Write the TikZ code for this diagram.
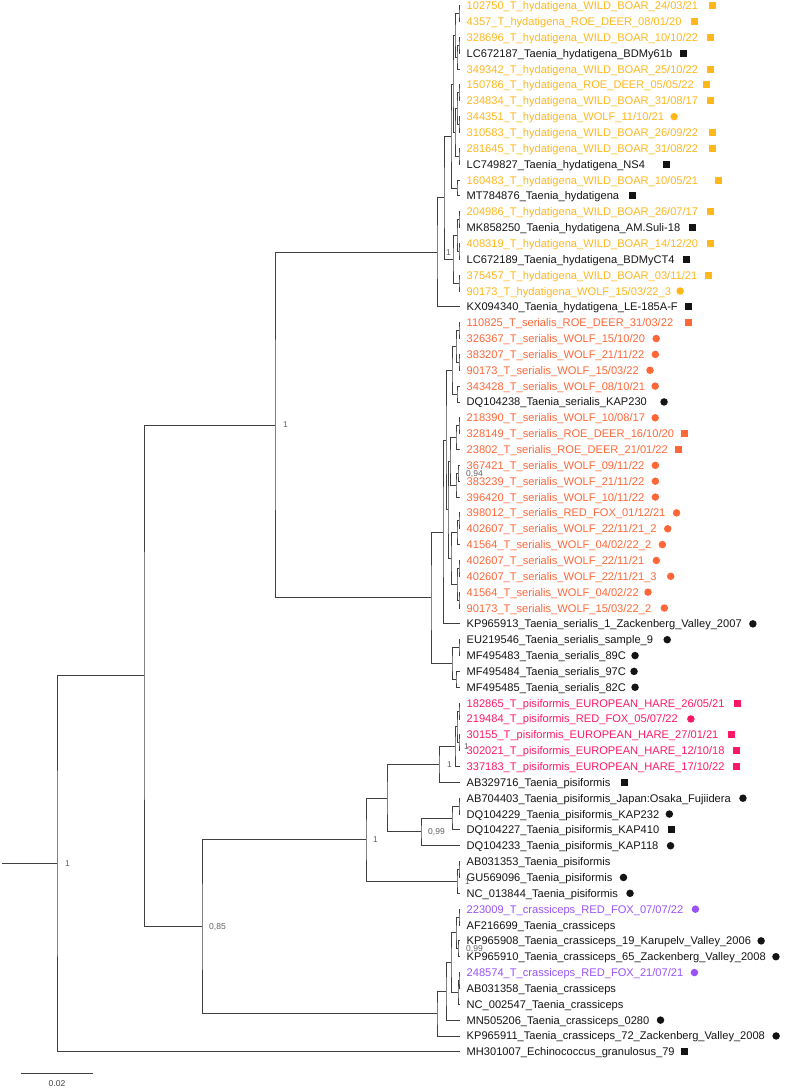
\documentclass[tikz,border=0pt]{standalone}
\usepackage{fontspec}
\setmainfont{Liberation Sans}
\usetikzlibrary{calc,positioning}
\definecolor{hydcol}{RGB}{255,183,28}
\definecolor{sercol}{RGB}{255,102,56}
\definecolor{piscol}{RGB}{255,24,104}
\definecolor{cracol}{RGB}{152,82,246}
\definecolor{refcol}{RGB}{20,20,20}
\definecolor{treecol}{RGB}{64,64,64}
\definecolor{bootcol}{RGB}{96,96,96}
\newcommand{\tipfont}{\fontsize{11.1}{13}\selectfont}
\newcommand{\bootfont}{\fontsize{8.5}{10}\selectfont}
\newcommand{\mkclade}[4]{%
  \coordinate (#1) at ($(#3)!.5!(#4)$);
  \coordinate (#1) at (#2,0|-#1);
  \draw[branch] (#3) -| (#1) |- (#4);
}
\tikzset{
  branch/.style={draw=treecol,line width=0.9pt},
  tip/.style={anchor=west,inner sep=0pt,text height=8pt,text depth=0pt,font=\tipfont},
  sqm/.style={rectangle,minimum size=7pt},
  dotm/.style={circle,minimum size=7.5pt},
  nom/.style={fill=none},
  boot/.style={anchor=west,inner sep=0pt,text height=6pt,text depth=0pt,font=\bootfont,text=bootcol},
}

\begin{document}
\begin{tikzpicture}[x=1pt,y=-1pt]
\useasboundingbox (0,0) rectangle (790,1089);
\foreach \i/\txt/\col/\mk/\gap in {
 0/{102750\_T\_hydatigena\_WILD\_BOAR\_24/03/21}/hydcol/sqm/10,
 1/{4357\_T\_hydatigena\_ROE\_DEER\_08/01/20}/hydcol/sqm/9,
 2/{328696\_T\_hydatigena\_WILD\_BOAR\_10/10/22}/hydcol/sqm/8,
 3/{LC672187\_Taenia\_hydatigena\_BDMy61b}/refcol/sqm/7,
 4/{349342\_T\_hydatigena\_WILD\_BOAR\_25/10/22}/hydcol/sqm/8,
 5/{150786\_T\_hydatigena\_ROE\_DEER\_05/05/22}/hydcol/sqm/9,
 6/{234834\_T\_hydatigena\_WILD\_BOAR\_31/08/17}/hydcol/sqm/8,
 7/{344351\_T\_hydatigena\_WOLF\_11/10/21}/hydcol/dotm/6,
 8/{310583\_T\_hydatigena\_WILD\_BOAR\_26/09/22}/hydcol/sqm/10,
 9/{281645\_T\_hydatigena\_WILD\_BOAR\_31/08/22}/hydcol/sqm/10,
 10/{LC749827\_Taenia\_hydatigena\_NS4}/refcol/sqm/18,
 11/{160483\_T\_hydatigena\_WILD\_BOAR\_10/05/21}/hydcol/sqm/16,
 12/{MT784876\_Taenia\_hydatigena}/refcol/sqm/9,
 13/{204986\_T\_hydatigena\_WILD\_BOAR\_26/07/17}/hydcol/sqm/8,
 14/{MK858250\_Taenia\_hydatigena\_AM.Suli-18}/refcol/sqm/8,
 15/{408319\_T\_hydatigena\_WILD\_BOAR\_14/12/20}/hydcol/sqm/8,
 16/{LC672189\_Taenia\_hydatigena\_BDMyCT4}/refcol/sqm/8,
 17/{375457\_T\_hydatigena\_WILD\_BOAR\_03/11/21}/hydcol/sqm/7,
 18/{90173\_T\_hydatigena\_WOLF\_15/03/22\_3}/hydcol/dotm/5,
 19/{KX094340\_Taenia\_hydatigena\_LE-185A-F}/refcol/sqm/7,
 20/{110825\_T\_serialis\_ROE\_DEER\_31/03/22}/sercol/sqm/11,
 21/{326367\_T\_serialis\_WOLF\_15/10/20}/sercol/dotm/7,
 22/{383207\_T\_serialis\_WOLF\_21/11/22}/sercol/dotm/7,
 23/{90173\_T\_serialis\_WOLF\_15/03/22}/sercol/dotm/7,
 24/{343428\_T\_serialis\_WOLF\_08/10/21}/sercol/dotm/6,
 25/{DQ104238\_Taenia\_serialis\_KAP230}/refcol/dotm/13,
 26/{218390\_T\_serialis\_WOLF\_10/08/17}/sercol/dotm/6,
 27/{328149\_T\_serialis\_ROE\_DEER\_16/10/20}/sercol/sqm/7,
 28/{23802\_T\_serialis\_ROE\_DEER\_21/01/22}/sercol/sqm/7,
 29/{367421\_T\_serialis\_WOLF\_09/11/22}/sercol/dotm/7,
 30/{383239\_T\_serialis\_WOLF\_21/11/22}/sercol/dotm/7,
 31/{396420\_T\_serialis\_WOLF\_10/11/22}/sercol/dotm/7,
 32/{398012\_T\_serialis\_RED\_FOX\_01/12/21}/sercol/dotm/7,
 33/{402607\_T\_serialis\_WOLF\_22/11/21\_2}/sercol/dotm/7,
 34/{41564\_T\_serialis\_WOLF\_04/02/22\_2}/sercol/dotm/7,
 35/{402607\_T\_serialis\_WOLF\_22/11/21}/sercol/dotm/8,
 36/{402607\_T\_serialis\_WOLF\_22/11/21\_3}/sercol/dotm/10,
 37/{41564\_T\_serialis\_WOLF\_04/02/22}/sercol/dotm/5,
 38/{90173\_T\_serialis\_WOLF\_15/03/22\_2}/sercol/dotm/9,
 39/{KP965913\_Taenia\_serialis\_1\_Zackenberg\_Valley\_2007}/refcol/dotm/7,
 40/{EU219546\_Taenia\_serialis\_sample\_9}/refcol/dotm/10,
 41/{MF495483\_Taenia\_serialis\_89C}/refcol/dotm/5,
 42/{MF495484\_Taenia\_serialis\_97C}/refcol/dotm/4,
 43/{MF495485\_Taenia\_serialis\_82C}/refcol/dotm/5,
 44/{182865\_T\_pisiformis\_EUROPEAN\_HARE\_26/05/21}/piscol/sqm/9,
 45/{219484\_T\_pisiformis\_RED\_FOX\_05/07/22}/piscol/dotm/9,
 46/{30155\_T\_pisiformis\_EUROPEAN\_HARE\_27/01/21}/piscol/sqm/9,
 47/{302021\_T\_pisiformis\_EUROPEAN\_HARE\_12/10/18}/piscol/sqm/8,
 48/{337183\_T\_pisiformis\_EUROPEAN\_HARE\_17/10/22}/piscol/sqm/8,
 49/{AB329716\_Taenia\_pisiformis}/refcol/sqm/10,
 50/{AB704403\_Taenia\_pisiformis\_Japan:Osaka\_Fujiidera}/refcol/dotm/8,
 51/{DQ104229\_Taenia\_pisiformis\_KAP232}/refcol/dotm/6,
 52/{DQ104227\_Taenia\_pisiformis\_KAP410}/refcol/sqm/8,
 53/{DQ104233\_Taenia\_pisiformis\_KAP118}/refcol/dotm/8,
 54/{AB031353\_Taenia\_pisiformis}/refcol/nom/7,
 55/{GU569096\_Taenia\_pisiformis}/refcol/dotm/7,
 56/{NC\_013844\_Taenia\_pisiformis}/refcol/dotm/8,
 57/{223009\_T\_crassiceps\_RED\_FOX\_07/07/22}/cracol/dotm/8,
 58/{AF216699\_Taenia\_crassiceps}/refcol/nom/7,
 59/{KP965908\_Taenia\_crassiceps\_19\_Karupelv\_Valley\_2006}/refcol/dotm/6,
 60/{KP965910\_Taenia\_crassiceps\_65\_Zackenberg\_Valley\_2008}/refcol/dotm/6,
 61/{248574\_T\_crassiceps\_RED\_FOX\_21/07/21}/cracol/dotm/7,
 62/{AB031358\_Taenia\_crassiceps}/refcol/nom/7,
 63/{NC\_002547\_Taenia\_crassiceps}/refcol/nom/7,
 64/{MN505206\_Taenia\_crassiceps\_0280}/refcol/dotm/7,
 65/{KP965911\_Taenia\_crassiceps\_72\_Zackenberg\_Valley\_2008}/refcol/dotm/7,
 66/{MH301007\_Echinococcus\_granulosus\_79}/refcol/sqm/6}{
  \coordinate (t\i) at (460,{5.7+15.85*\i});
  \node[tip,text=\col] (l\i) at (466.5,{5.7+15.85*\i}) {\txt};
  \node[fill=\col,\mk,inner sep=0pt,right=\gap pt of l\i] (m\i) {};
}

\mkclade{c01}{459}{t0}{t1}
\mkclade{c23}{459}{t2}{t3}
\mkclade{c234}{457}{c23}{t4}
\mkclade{g1}{455}{c01}{c234}
\mkclade{c56}{459}{t5}{t6}
\mkclade{c78}{459}{t7}{t8}
\mkclade{c58}{457}{c56}{c78}
\mkclade{c910}{459}{t9}{t10}
\mkclade{g2}{455}{c58}{c910}
\mkclade{g12}{453}{g1}{g2}
\mkclade{c1112}{457}{t11}{t12}
\mkclade{h1a}{451}{g12}{c1112}
\mkclade{c1314}{459}{t13}{t14}
\mkclade{c1516}{459}{t15}{t16}
\mkclade{c1316}{457}{c1314}{c1516}
\mkclade{c1718}{459}{t17}{t18}
\mkclade{h1b}{453}{c1316}{c1718}
\mkclade{h1}{444}{h1a}{h1b}
\mkclade{h}{437}{h1}{t19}

\mkclade{c2021}{459}{t20}{t21}
\mkclade{c2223}{459}{t22}{t23}
\mkclade{c2023}{456}{c2021}{c2223}
\mkclade{c2425}{457}{t24}{t25}
\mkclade{s3}{452}{c2023}{c2425}
\mkclade{c2627}{459}{t26}{t27}
\mkclade{c2628}{456}{c2627}{t28}
\mkclade{c2930}{458}{t29}{t30}
\mkclade{c2931}{456}{c2930}{t31}
\mkclade{sa}{450}{c2628}{c2931}
\mkclade{c3233}{459}{t32}{t33}
\mkclade{c3234}{457}{c3233}{t34}
\mkclade{c3536}{459}{t35}{t36}
\mkclade{c3738}{459}{t37}{t38}
\mkclade{sc}{457}{c3536}{c3738}
\mkclade{sb}{451}{c3234}{sc}
\mkclade{sab}{448}{sa}{sb}
\mkclade{s2}{446}{s3}{sab}
\mkclade{s1}{443}{s2}{t39}
\mkclade{c4041}{459}{t40}{t41}
\mkclade{c4243}{456}{t42}{t43}
\mkclade{mf}{452}{c4041}{c4243}
\mkclade{s}{431}{s1}{mf}
\mkclade{a}{275}{h}{s}

\mkclade{c4445}{459}{t44}{t45}
\mkclade{c4647}{459}{t46}{t47}
\mkclade{pq}{457}{c4445}{c4647}
\mkclade{pp}{455}{pq}{t48}
\mkclade{p1a}{439}{pp}{t49}
\mkclade{c5051}{459}{t50}{t51}
\mkclade{ps}{452}{c5051}{t52}
\mkclade{pr}{421}{ps}{t53}
\mkclade{p1}{387}{p1a}{pr}
\mkclade{c5455}{459}{t54}{t55}
\mkclade{pt}{457}{c5455}{t56}
\mkclade{p}{366}{p1}{pt}

\mkclade{c5758}{459}{t57}{t58}
\mkclade{c5960}{458}{t59}{t60}
\mkclade{ca}{456}{c5758}{c5960}
\mkclade{c6162}{459}{t61}{t62}
\mkclade{cb}{458}{c6162}{t63}
\mkclade{c2}{451}{ca}{cb}
\mkclade{c1}{446}{c2}{t64}
\mkclade{cr}{437}{c1}{t65}
\mkclade{b}{202}{p}{cr}

\mkclade{ingr}{144}{a}{b}
\mkclade{root}{57}{ingr}{t66}
\coordinate (stub) at (2,0|-root);
\draw[branch] (stub) -- (root);

\node[boot] (broot) at ($(root)+(8,0)$) {1};
\node[boot] (ba) at ($(a)+(8,0)$) {1};
\node[boot] (bh) at ($(h)+(9,0)$) {1};
\node[boot] (bb) at ($(b)+(7,0)$) {0,85};
\node[boot] (bp) at ($(p)+(7,0)$) {1};
\node[boot] (bp1a) at ($(p1a)+(8,0)$) {1};
\node[boot] (bpp) at ($(pp)+(9,0)$) {1};
\node[boot] (bpr) at ($(pr)+(7,0)$) {0,99};
\node[boot] (bpt) at ($(pt)+(8,0)$) {1};
\node[boot] (bc2930) at ($(c2930)+(8,0)$) {0,94};
\node[boot] (bc5960) at ($(c5960)+(8,0)$) {0,99};

\coordinate (bar0) at (21,1073);
\coordinate (bar1) at (93,1073);
\draw[branch] (bar0) -- (bar1);
\node[font=\bootfont,text=treecol,inner sep=0pt] (barlab) at ($(bar0)!.5!(bar1)+(0,10.5)$) {0.02};
\end{tikzpicture}
\end{document}
